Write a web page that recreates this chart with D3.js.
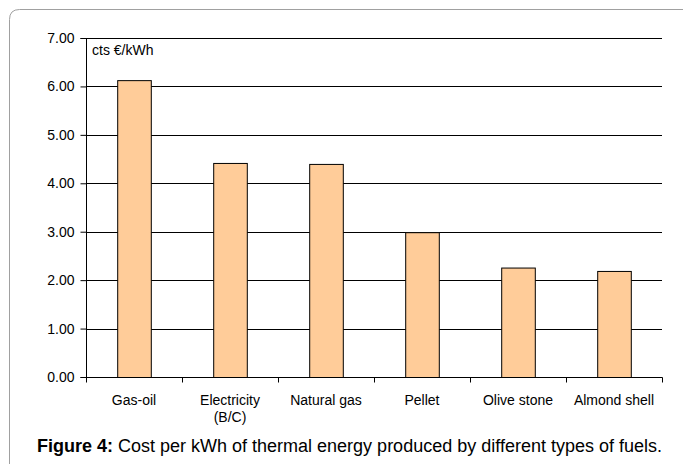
<!DOCTYPE html>
<html>
<head>
<meta charset="utf-8">
<script src="https://cdn.jsdelivr.net/npm/d3@7"></script>
<style>
  html, body { margin: 0; padding: 0; background: #fff; }
  svg { display: block; font-family: "Liberation Sans", Arial, sans-serif; }
</style>
</head>
<body>
<svg id="chart" width="683" height="464"></svg>
<script>
// Fuel cost per kWh of thermal energy (cts €/kWh)
const fuels = ["Gas-oil", "Electricity\n(B/C)", "Natural gas", "Pellet", "Olive stone", "Almond shell"];
const costs = [6.13, 4.42, 4.40, 2.99, 2.26, 2.19];
const yTicks = [0, 1, 2, 3, 4, 5, 6, 7];

const svg = d3.select("#chart");
const plot = { left: 86, right: 662, top: 38, bottom: 377 };

// Panel frame with a rounded top-left corner
svg.append("path")
  .attr("d", "M9.5,464 L9.5,19.5 Q9.5,9.5 19.5,9.5 L683,9.5")
  .attr("fill", "none")
  .attr("stroke", "#a0a0a0")
  .attr("stroke-width", 1);

const x = d3.scaleBand().domain(fuels).range([plot.left, plot.right]).padding(0);
const y = d3.scaleLinear().domain([0, 7]).range([plot.bottom, plot.top]);

// Horizontal gridlines
svg.append("g")
  .selectAll("line")
  .data(yTicks.filter(d => d > 0))
  .join("line")
  .attr("x1", plot.left).attr("x2", plot.right)
  .attr("y1", d => Math.round(y(d)) + 0.5).attr("y2", d => Math.round(y(d)) + 0.5)
  .attr("stroke", "#000").attr("stroke-width", 1);

// Bars
const barW = x.bandwidth() * 0.35;
svg.append("g")
  .selectAll("rect")
  .data(fuels)
  .join("rect")
  .attr("x", d => x(d) + (x.bandwidth() - barW) / 2 + 0.5)
  .attr("y", (d, i) => y(costs[i]) + 0.5)
  .attr("width", barW)
  .attr("height", (d, i) => y(0) - y(costs[i]))
  .attr("fill", "#ffcc99")
  .attr("stroke", "#000")
  .attr("stroke-width", 1);

// Y axis
const yAxis = svg.append("g")
  .attr("transform", `translate(${plot.left + 0.5},0)`)
  .call(d3.axisLeft(y).tickValues(yTicks).tickFormat(d3.format(".2f")).tickSize(6).tickPadding(6));
yAxis.select(".domain").attr("stroke", "#000").attr("d", `M-6,${plot.top + 0.5}H0V${plot.bottom + 0.5}H-6`);
yAxis.selectAll(".tick line").attr("stroke", "#000");
yAxis.selectAll(".tick text")
  .attr("font-size", 14).attr("font-family", "Liberation Sans, Arial, sans-serif").attr("fill", "#000");

// X axis with ticks on category boundaries
const xAxis = svg.append("g").attr("transform", `translate(0,${plot.bottom + 0.5})`);
xAxis.append("line")
  .attr("x1", plot.left).attr("x2", plot.right + 0.5)
  .attr("stroke", "#000");
xAxis.selectAll("line.tick")
  .data(fuels.concat(["_end"]))
  .join("line")
  .attr("class", "tick")
  .attr("x1", (d, i) => Math.round(plot.left + i * x.step()) + 0.5)
  .attr("x2", (d, i) => Math.round(plot.left + i * x.step()) + 0.5)
  .attr("y1", 0).attr("y2", 5)
  .attr("stroke", "#000");

const labels = xAxis.selectAll("text")
  .data(fuels)
  .join("text")
  .attr("x", d => x(d) + x.bandwidth() / 2)
  .attr("y", 27)
  .attr("text-anchor", "middle")
  .attr("font-size", 14)
  .attr("fill", "#000");
labels.each(function(d) {
  const lines = d.split("\n");
  const t = d3.select(this);
  lines.forEach((ln, k) => {
    t.append("tspan")
      .attr("x", x(d) + x.bandwidth() / 2)
      .attr("dy", k === 0 ? 0 : 17)
      .text(ln);
  });
});

// Unit label inside the plot
svg.append("text")
  .attr("x", 92).attr("y", 55)
  .attr("font-size", 14)
  .attr("fill", "#000")
  .text("cts €/kWh");

// Figure caption
const cap = svg.append("text")
  .attr("x", 37).attr("y", 452)
  .attr("font-size", 18)
  .attr("fill", "#000");
cap.append("tspan").attr("font-weight", "bold").text("Figure 4:");
cap.append("tspan").text(" Cost per kWh of thermal energy produced by different types of fuels.");
</script>
</body>
</html>
